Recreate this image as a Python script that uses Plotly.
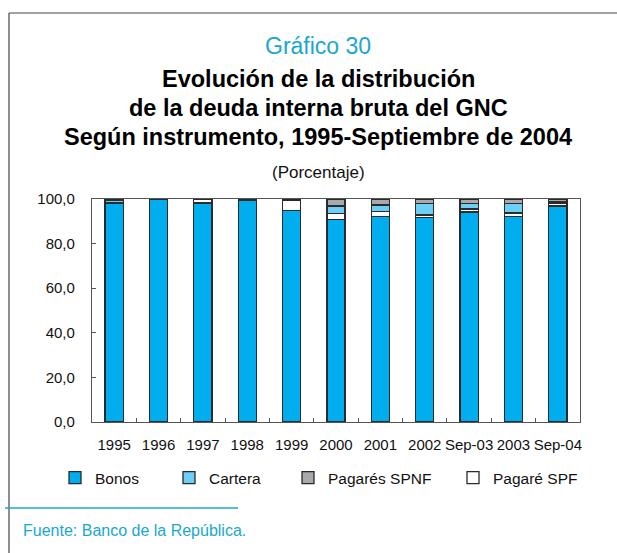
import plotly.graph_objects as go

# ---------------- data ----------------
categories = ["1995", "1996", "1997", "1998", "1999", "2000", "2001", "2002", "Sep-03", "2003", "Sep-04"]
bonos = [98.0, 99.9, 98.2, 99.2, 94.8, 90.9, 92.2, 91.6, 94.2, 92.2, 96.9]
pagare_spf = [0.3, 0.0, 1.6, 0.2, 4.6, 2.7, 2.1, 1.2, 1.3, 1.5, 1.0]
cartera = [1.2, 0.0, 0.1, 0.3, 0.2, 3.3, 3.0, 5.3, 2.5, 4.4, 0.8]
pagares_spnf = [0.5, 0.1, 0.1, 0.3, 0.4, 3.1, 2.7, 1.9, 2.0, 1.9, 1.3]
y_ticks = [0, 20, 40, 60, 80, 100]

# ---------------- layout helpers ----------------
W, H = 617, 553
L, R, T, B = 92, 580, 199, 422


def px_x(px):
    return (px - L) / (R - L)


def px_y(py):
    return (B - py) / (B - T)


SANS = "Liberation Sans, Arial, sans-serif"
CYAN = "#1aa7cf"
EDGE = "#2b2b2b"

fig = go.Figure()

series = [
    ("Bonos", bonos, "#00aeef", 69),
    ("Cartera", cartera, "#6dcff6", 74),
    ("Pagarés SPNF", pagares_spnf, "#a7a9ac", 120),
    ("Pagaré SPF", pagare_spf, "#ffffff", 90),
]
# stacking order bottom -> top: Bonos, Pagaré SPF, Cartera, Pagarés SPNF
stack_order = ["Bonos", "Pagaré SPF", "Cartera", "Pagarés SPNF"]
legend_rank = {s[0]: i for i, s in enumerate(series)}
lookup = {s[0]: s for s in series}
for name in stack_order:
    _, vals, color, lw = lookup[name]
    fig.add_trace(go.Bar(
        x=categories, y=vals, name=name,
        marker=dict(color=color, line=dict(color=EDGE, width=1.3)),
        legendrank=legend_rank[name] + 1,
        legendwidth=lw,
    ))

fig.update_layout(
    width=W, height=H,
    margin=dict(l=L, r=W - R, t=T, b=H - B, autoexpand=False),
    paper_bgcolor="white", plot_bgcolor="white",
    barmode="stack", bargap=0.59,
    separators=",.",
    showlegend=True,
    legend=dict(
        orientation="h", x=px_x(55), xanchor="left", y=px_y(478), yanchor="middle",
        font=dict(family=SANS, size=15.5, color="#111111"),
        traceorder="normal", bgcolor="rgba(0,0,0,0)",
    ),
    font=dict(family=SANS, color="#111111"),
)

fig.update_xaxes(
    type="category", tickson="boundaries", ticks="inside", ticklen=4, tickangle=0,
    tickcolor="#555555", showline=True, mirror=True, linecolor="#555555", linewidth=1.3,
    showgrid=False, tickfont=dict(family=SANS, size=15, color="#111111"),
    ticklabelstandoff=9,
)
fig.update_yaxes(
    range=[0, 100], tickvals=y_ticks, tickformat=".1f", ticks="inside", ticklen=4,
    tickcolor="#555555", showline=True, mirror=True, linecolor="#555555", linewidth=1.3,
    showgrid=False, zeroline=False, tickfont=dict(family=SANS, size=15, color="#111111"),
    ticklabelstandoff=13,
)

# ---------------- titles and footer ----------------
cx = px_x(318)
ann = [
    dict(text="Gráfico 30", y=px_y(46), font=dict(family=SANS, size=23, color=CYAN)),
    dict(text="<b>Evolución de la distribución</b>", y=px_y(79), font=dict(family=SANS, size=23.5, color="#000000")),
    dict(text="<b>de la deuda interna bruta del GNC</b>", y=px_y(108), font=dict(family=SANS, size=23.5, color="#000000")),
    dict(text="<b>Según instrumento, 1995-Septiembre de 2004</b>", y=px_y(137), font=dict(family=SANS, size=23.5, color="#000000")),
    dict(text="(Porcentaje)", y=px_y(172), font=dict(family=SANS, size=17, color="#111111")),
]
for a in ann:
    fig.add_annotation(x=cx, xref="paper", yref="paper", xanchor="center", yanchor="middle",
                       showarrow=False, **a)

fig.add_annotation(text="Fuente: Banco de la República.", x=px_x(21), y=px_y(530),
                   xref="paper", yref="paper", xanchor="left", yanchor="middle", showarrow=False,
                   font=dict(family=SANS, size=16, color=CYAN))

# frame lines around the chart panel
fig.add_shape(type="line", xref="paper", yref="paper", x0=px_x(9), x1=px_x(640), y0=px_y(13), y1=px_y(13),
              line=dict(color="#444444", width=1.2))
fig.add_shape(type="line", xref="paper", yref="paper", x0=px_x(9), x1=px_x(9), y0=px_y(13), y1=px_y(580),
              line=dict(color="#444444", width=1.2))
fig.add_shape(type="line", xref="paper", yref="paper", x0=px_x(5), x1=px_x(238), y0=px_y(508), y1=px_y(508),
              line=dict(color=CYAN, width=1.5))

fig.write_html("out.html", config={"displayModeBar": False},
               post_script="document.body.style.margin='0px';")
